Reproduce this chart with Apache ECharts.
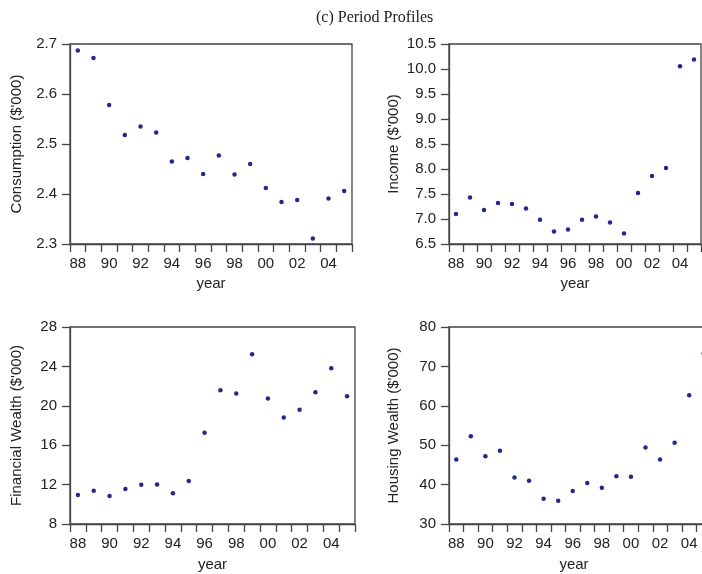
<!DOCTYPE html>
<html>
<head>
<meta charset="utf-8">
<script src="https://cdn.jsdelivr.net/npm/echarts@6/dist/echarts.min.js"></script>
<style>
html,body{margin:0;padding:0;background:#fff;}
#chart{width:702px;height:574px;}
</style>
</head>
<body>
<div id="chart"></div>
<script>
const years = ['88','89','90','91','92','93','94','95','96','97','98','99','00','01','02','03','04','05'];
const consumption = [2.687,2.672,2.578,2.518,2.535,2.523,2.465,2.472,2.440,2.477,2.439,2.460,2.412,2.384,2.388,2.311,2.391,2.406];
const income = [7.10,7.43,7.18,7.32,7.30,7.21,6.985,6.75,6.79,6.985,7.05,6.93,6.71,7.52,7.86,8.02,10.055,10.19];
const financialWealth = [10.94,11.38,10.84,11.55,11.99,12.02,11.11,12.36,17.26,21.58,21.24,25.23,20.74,18.81,19.59,21.38,23.81,20.97];
const housingWealth = [46.4,52.3,47.2,48.6,41.8,41.0,36.4,35.9,38.4,40.4,39.2,42.1,42.0,49.4,46.4,50.6,62.7,73.3];

const yNames = ["Consumption ($'000)","Income ($'000)","Financial Wealth ($'000)","Housing Wealth ($'000)"];
const yMin = [2.3, 6.5, 8, 30];
const yMax = [2.7, 10.5, 28, 80];
const yInt = [0.1, 0.5, 4, 10];
const yDecimals = [1, 1, 0, 0];
const seriesData = [consumption, income, financialWealth, housingWealth];

const axisColor = '#444';
const textColor = '#222';
const dotColor = '#24288a';

const grids = [
  {left:70, top:44, width:282, height:200},
  {left:449, top:44, width:252, height:200},
  {left:70, top:327, width:285, height:197},
  {left:449, top:327, width:262, height:197}
];
const yNameGap = [46, 48, 46, 48];
const xNameGap = [32, 32, 33, 33];
const xNamePad = [[0,0,0,0],[0,0,0,0],[0,0,0,0],[0,12,0,0]];

const chart = echarts.init(document.getElementById('chart'), null, {renderer:'canvas'});
const option = {
  animation:false,
  backgroundColor:'#fff',
  title:{
    text:'(c) Period Profiles',
    left:311, top:5,
    textStyle:{fontFamily:'Liberation Serif', fontSize:16, fontWeight:'normal', color:textColor}
  },
  grid: grids.map(g => Object.assign({show:true, borderColor:axisColor, borderWidth:1.3, backgroundColor:'transparent', outerBoundsMode:'none', containLabel:false}, g)),
  xAxis: grids.map((g,i) => ({
    type:'category', gridIndex:i, data:years, boundaryGap:true,
    name:'year', nameLocation:'middle', nameGap:xNameGap[i],
    nameTextStyle:{fontFamily:'Liberation Sans', fontSize:15, color:textColor, padding:xNamePad[i]},
    axisLine:{show:true, lineStyle:{color:axisColor, width:1.3}},
    axisTick:{show:true, interval:0, length:8, lineStyle:{color:axisColor, width:1.3}},
    axisLabel:{interval:1, margin:12, fontFamily:'Liberation Sans', fontSize:15, color:textColor},
    splitLine:{show:false}
  })),
  yAxis: grids.map((g,i) => ({
    type:'value', gridIndex:i, min:yMin[i], max:yMax[i], interval:yInt[i],
    name:yNames[i], nameLocation:'middle', nameGap:yNameGap[i], nameRotate:90,
    nameTextStyle:{fontFamily:'Liberation Sans', fontSize:15, color:textColor},
    axisLine:{show:true, lineStyle:{color:axisColor, width:1.3}},
    axisTick:{show:true, length:8, lineStyle:{color:axisColor, width:1.3}},
    axisLabel:{margin:13, fontFamily:'Liberation Sans', fontSize:15, color:textColor,
      formatter: v => v.toFixed(yDecimals[i])},
    splitLine:{show:false}
  })),
  series: seriesData.map((d,i) => ({
    type:'scatter', xAxisIndex:i, yAxisIndex:i, data:d,
    symbol:'circle', symbolSize:4.5, itemStyle:{color:dotColor, opacity:1},
    clip:false
  }))
};
chart.setOption(option);
</script>
</body>
</html>
